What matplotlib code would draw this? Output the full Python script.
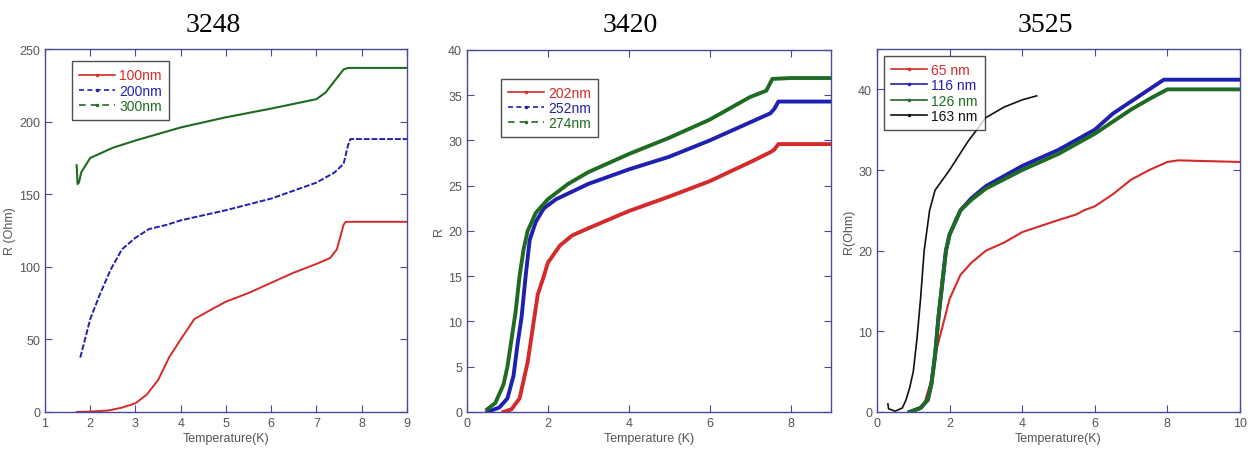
import matplotlib
matplotlib.use("Agg")
import matplotlib.pyplot as plt
from matplotlib.lines import Line2D

# ---- sample 3248 ----
t_100 = [1.7, 2.0, 2.4, 2.7, 3.0, 3.25, 3.5, 3.75, 4.0, 4.3, 4.7, 5.0, 5.5, 6.0, 6.5, 7.0, 7.3, 7.45, 7.6, 7.65, 8.0, 9.0]
r_100 = [0, 0.3, 1, 3, 6, 12, 22, 38, 50, 64, 71, 76, 82, 89, 96, 102, 106, 112, 129, 131, 131, 131]
t_200 = [1.78, 1.9, 2.0, 2.2, 2.45, 2.7, 3.0, 3.3, 3.7, 4.0, 5.0, 6.0, 7.0, 7.4, 7.6, 7.7, 7.75, 8.0, 9.0]
r_200 = [37.5, 52, 64, 80, 98, 112, 120, 126, 129, 132, 139, 147, 158, 165, 171, 184, 188, 188, 188]
t_300 = [1.7, 1.72, 1.75, 1.8, 2.0, 2.5, 3.0, 4.0, 5.0, 6.0, 7.0, 7.2, 7.4, 7.6, 7.7, 8.0, 9.0]
r_300 = [170, 157, 158, 165, 175, 182, 187, 196, 203, 209, 215.5, 220, 228, 236, 237, 237, 237]

# ---- sample 3420 ----
t_202 = [0.9, 1.1, 1.3, 1.5, 1.65, 1.75, 1.9, 2.0, 2.3, 2.6, 3.0, 4.0, 5.0, 6.0, 7.0, 7.5, 7.6, 7.7, 8.0, 9.0]
r_202 = [0, 0.3, 1.5, 5.5, 10, 13, 15, 16.5, 18.4, 19.5, 20.3, 22.2, 23.8, 25.5, 27.6, 28.7, 29.0, 29.6, 29.6, 29.6]
t_252 = [0.5, 0.8, 1.0, 1.15, 1.25, 1.35, 1.45, 1.55, 1.7, 1.9, 2.2, 3.0, 4.0, 5.0, 6.0, 7.0, 7.5, 7.6, 7.7, 8.0, 9.0]
r_252 = [0, 0.5, 1.5, 4, 7.5, 10.5, 15, 19, 21, 22.5, 23.5, 25.2, 26.8, 28.2, 30.0, 32.0, 33.0, 33.5, 34.3, 34.3, 34.3]
t_274 = [0.5, 0.7, 0.9, 1.0, 1.1, 1.2, 1.3, 1.4, 1.5, 1.7, 2.0, 2.5, 3.0, 4.0, 5.0, 6.0, 7.0, 7.4, 7.55, 8.0, 9.0]
r_274 = [0.3, 1, 3, 5, 8, 11, 15, 18, 20, 22, 23.5, 25.2, 26.5, 28.5, 30.3, 32.3, 34.8, 35.5, 36.8, 36.9, 36.9]

# ---- sample 3525 ----
t_65 = [1.0, 1.3, 1.5, 1.6, 1.8, 2.0, 2.3, 2.6, 3.0, 3.5, 4.0, 5.0, 5.5, 5.7, 6.0, 6.5, 7.0, 7.5, 8.0, 8.3, 10.0]
r_65 = [0, 1, 4, 7, 10.5, 14, 17, 18.5, 20, 21, 22.3, 23.8, 24.5, 25, 25.5, 27, 28.8, 30, 31, 31.2, 31]
t_116 = [0.9, 1.2, 1.4, 1.5, 1.6, 1.7, 1.8, 1.9, 2.0, 2.3, 2.6, 3.0, 4.0, 5.0, 6.0, 6.5, 7.0, 7.5, 7.9, 8.5, 10.0]
r_116 = [0, 0.5, 1.5, 3.5, 7, 12, 16, 20, 22, 25, 26.5, 28, 30.5, 32.5, 35, 37, 38.5, 40, 41.2, 41.2, 41.2]
t_126 = [0.9, 1.2, 1.4, 1.5, 1.6, 1.7, 1.8, 1.9, 2.0, 2.3, 2.6, 3.0, 4.0, 5.0, 6.0, 6.5, 7.0, 7.5, 8.0, 8.5, 10.0]
r_126 = [0, 0.5, 1.5, 3.5, 7, 12, 16, 20, 22, 25, 26.3, 27.7, 30.0, 32, 34.5, 36, 37.5, 38.8, 40, 40, 40]
t_163 = [0.3, 0.32, 0.5, 0.7, 0.8, 0.9, 1.0, 1.1, 1.2, 1.3, 1.45, 1.6, 2.0, 2.5, 3.0, 3.5, 4.0, 4.4]
r_163 = [1.0, 0.4, 0.1, 0.5, 1.5, 3, 5, 9, 14, 20, 25, 27.5, 30, 33.5, 36.5, 37.8, 38.7, 39.2]

RED = "#d42a2a"
BLUE = "#2020b0"
GREEN = "#1f6b22"
BLACK = "#111111"
SPINE = "#4848a0"
TICK = "#555555"

plt.rcParams["font.family"] = ["Liberation Sans", "DejaVu Sans"]

fig = plt.figure(figsize=(12.53, 4.6), dpi=100)
ax1 = fig.add_axes([0.0359, 0.1022, 0.2889, 0.789])
ax2 = fig.add_axes([0.3727, 0.1022, 0.2905, 0.787])
ax3 = fig.add_axes([0.6999, 0.1022, 0.2897, 0.789])


def style_axes(ax, xlabel, ylabel):
    for sp in ax.spines.values():
        sp.set_color(SPINE)
        sp.set_linewidth(1.0)
    ax.tick_params(direction="in", top=True, right=True, length=5,
                   color=SPINE, labelcolor=TICK, labelsize=9)
    ax.set_xlabel(xlabel, fontsize=9, color=TICK, labelpad=2)
    ax.set_ylabel(ylabel, fontsize=9, color=TICK, labelpad=2)


def add_legend(ax, labels, colors, styles, anchor):
    handles = [Line2D([0], [0], color=c, ls=s, lw=1.2, marker=".", markersize=3)
               for c, s in zip(colors, styles)]
    leg = ax.legend(handles, labels, loc="upper left", bbox_to_anchor=anchor,
                    fontsize=10, frameon=True, fancybox=False, handlelength=2.6,
                    handletextpad=0.3, borderpad=0.5, labelspacing=0.1)
    leg.get_frame().set_edgecolor("#222222")
    leg.get_frame().set_linewidth(1.0)
    for txt, c in zip(leg.get_texts(), colors):
        txt.set_color(c)


# panel 1
ax1.plot(t_100, r_100, color=RED, lw=1.4)
ax1.plot(t_200, r_200, color=BLUE, lw=1.4, ls=(0, (3, 1)))
ax1.plot(t_300, r_300, color=GREEN, lw=1.5)
ax1.set_xlim(1, 9)
ax1.set_ylim(0, 250)
ax1.set_xticks(range(1, 10))
ax1.set_yticks(range(0, 251, 50))
style_axes(ax1, "Temperature(K)", "R (Ohm)")
add_legend(ax1, ["100nm", "200nm", "300nm"], [RED, BLUE, GREEN],
           ["-", (0, (3, 2)), (0, (4, 3))], (0.055, 0.985))

# panel 2
ax2.plot(t_202, r_202, color=RED, lw=2.8)
ax2.plot(t_252, r_252, color=BLUE, lw=2.8)
ax2.plot(t_274, r_274, color=GREEN, lw=2.8)
ax2.set_xlim(0, 9)
ax2.set_ylim(0, 40)
ax2.set_xticks(range(0, 9, 2))
ax2.set_yticks(range(0, 41, 5))
style_axes(ax2, "Temperature (K)", "R")
add_legend(ax2, ["202nm", "252nm", "274nm"], [RED, BLUE, GREEN],
           ["-", (0, (3, 2)), (0, (4, 3))], (0.075, 0.94))

# panel 3
ax3.plot(t_65, r_65, color=RED, lw=1.5)
ax3.plot(t_116, r_116, color=BLUE, lw=2.8)
ax3.plot(t_126, r_126, color=GREEN, lw=2.8)
ax3.plot(t_163, r_163, color=BLACK, lw=1.2)
ax3.set_xlim(0, 10)
ax3.set_ylim(0, 45)
ax3.set_xticks(range(0, 11, 2))
ax3.set_yticks(range(0, 41, 10))
style_axes(ax3, "Temperature(K)", "R(Ohm)")
add_legend(ax3, ["65 nm", "116 nm", "126 nm", "163 nm"], [RED, BLUE, GREEN, BLACK],
           ["-", "-", "-", "-"], (0.0, 1.0))

fig.text(0.170, 0.945, "3248", ha="center", va="center", fontsize=20, family="Liberation Serif")
fig.text(0.503, 0.945, "3420", ha="center", va="center", fontsize=20, family="Liberation Serif")
fig.text(0.834, 0.945, "3525", ha="center", va="center", fontsize=20, family="Liberation Serif")

fig.savefig("out.png", dpi=100)
